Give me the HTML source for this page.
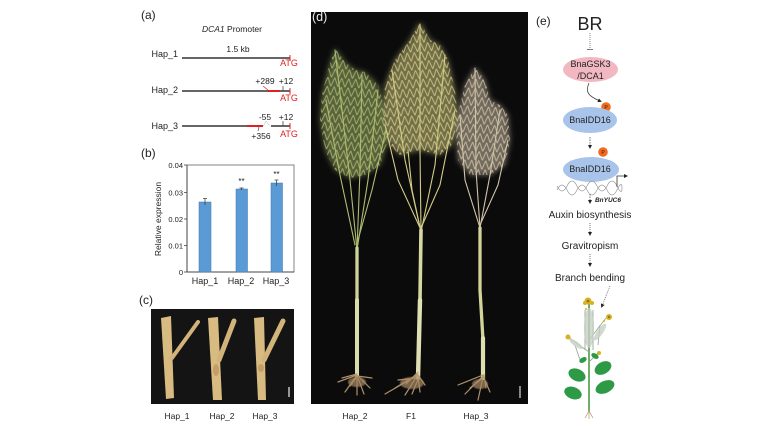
<!DOCTYPE html>
<html><head><meta charset="utf-8">
<style>
html,body{margin:0;padding:0;background:#fff;}
svg{display:block;font-family:"Liberation Sans",Arial,sans-serif;}
</style></head>
<body>
<svg width="762" height="429" viewBox="0 0 762 429" xmlns="http://www.w3.org/2000/svg">
<defs>
  <pattern id="pg" width="7" height="9" patternUnits="userSpaceOnUse" patternTransform="rotate(4)">
    <path d="M0,9 L3.5,0 L7,9" fill="none" stroke="#b0bf76" stroke-width="1"/>
  </pattern>
  <pattern id="pf" width="7" height="9" patternUnits="userSpaceOnUse" patternTransform="rotate(-4)">
    <path d="M0,9 L3.5,0 L7,9" fill="none" stroke="#d8d08a" stroke-width="1"/>
  </pattern>
  <pattern id="pp" width="7" height="9" patternUnits="userSpaceOnUse" patternTransform="rotate(3)">
    <path d="M0,9 L3.5,0 L7,9" fill="none" stroke="#d6c9b0" stroke-width="1"/>
  </pattern>
  <filter id="bl" x="-20%" y="-20%" width="140%" height="140%"><feGaussianBlur stdDeviation="3"/></filter>
  <filter id="bl1"><feGaussianBlur stdDeviation="0.6"/></filter>
  <filter id="bl2"><feGaussianBlur stdDeviation="0.35"/></filter>
  <marker id="ah" markerWidth="5" markerHeight="5" refX="2.5" refY="2.5" orient="auto">
    <path d="M0,0 L5,2.5 L0,5z" fill="#222"/>
  </marker>
</defs>

<!-- ===== Panel a ===== -->
<text x="141" y="19" font-size="12" fill="#222">(a)</text>
<text x="232" y="32" font-size="8.5" fill="#222" text-anchor="middle"><tspan font-style="italic">DCA1</tspan> Promoter</text>

<text x="178" y="57" font-size="9" fill="#222" text-anchor="end">Hap_1</text>
<line x1="182" y1="58" x2="290" y2="58" stroke="#333" stroke-width="1.4"/>
<line x1="290" y1="55" x2="290" y2="61" stroke="#e02020" stroke-width="1"/>
<text x="238" y="52" font-size="8.5" fill="#222" text-anchor="middle">1.5 kb</text>
<text x="289" y="66" font-size="9" fill="#e02020" text-anchor="middle">ATG</text>

<text x="178" y="93" font-size="9" fill="#222" text-anchor="end">Hap_2</text>
<line x1="182" y1="91" x2="290" y2="91" stroke="#333" stroke-width="1.4"/>
<line x1="268" y1="91" x2="280" y2="91" stroke="#e02020" stroke-width="2"/>
<line x1="290" y1="88" x2="290" y2="94" stroke="#e02020" stroke-width="1"/>
<line x1="263" y1="86" x2="268" y2="90" stroke="#e02020" stroke-width="0.7"/>
<line x1="283" y1="86" x2="283" y2="91" stroke="#333" stroke-width="0.7"/>
<text x="265" y="84" font-size="8.5" fill="#222" text-anchor="middle">+289</text>
<text x="286" y="84" font-size="8.5" fill="#222" text-anchor="middle">+12</text>
<text x="289" y="101" font-size="9" fill="#e02020" text-anchor="middle">ATG</text>

<text x="178" y="129" font-size="9" fill="#222" text-anchor="end">Hap_3</text>
<line x1="182" y1="126" x2="247" y2="126" stroke="#333" stroke-width="1.4"/>
<line x1="247" y1="126" x2="263" y2="126" stroke="#e02020" stroke-width="2"/>
<path d="M263,126 L266,121 L270,126" fill="none" stroke="#999" stroke-width="0.6" stroke-dasharray="1,1"/>
<line x1="271" y1="126" x2="290" y2="126" stroke="#333" stroke-width="1.4"/>
<line x1="290" y1="123" x2="290" y2="129" stroke="#e02020" stroke-width="1"/>
<line x1="283" y1="121" x2="283" y2="126" stroke="#333" stroke-width="0.7"/>
<line x1="259" y1="127" x2="258" y2="131" stroke="#333" stroke-width="0.6"/>
<text x="265" y="120" font-size="8.5" fill="#222" text-anchor="middle">-55</text>
<text x="286" y="120" font-size="8.5" fill="#222" text-anchor="middle">+12</text>
<text x="261" y="139" font-size="8.5" fill="#222" text-anchor="middle">+356</text>
<text x="289" y="137" font-size="9" fill="#e02020" text-anchor="middle">ATG</text>

<!-- ===== Panel b ===== -->
<text x="141" y="157" font-size="12" fill="#222">(b)</text>
<rect x="187" y="165" width="107" height="107" fill="none" stroke="#777" stroke-width="0.9"/>
<line x1="187" y1="165" x2="187" y2="272" stroke="#444" stroke-width="1"/>
<line x1="187" y1="272" x2="294" y2="272" stroke="#444" stroke-width="1"/>
<g stroke="#444" stroke-width="0.8">
  <line x1="184" y1="165" x2="187" y2="165"/>
  <line x1="184" y1="192.5" x2="187" y2="192.5"/>
  <line x1="184" y1="219" x2="187" y2="219"/>
  <line x1="184" y1="245.5" x2="187" y2="245.5"/>
  <line x1="184" y1="272" x2="187" y2="272"/>
</g>
<g font-size="7.5" fill="#222" text-anchor="end">
  <text x="183" y="168">0.04</text>
  <text x="183" y="195.5">0.03</text>
  <text x="183" y="222">0.02</text>
  <text x="183" y="248.5">0.01</text>
  <text x="183" y="275">0</text>
</g>
<text transform="translate(161,219) rotate(-90)" font-size="8.5" fill="#222" text-anchor="middle">Relative expression</text>
<rect x="199" y="202" width="12" height="70" fill="#5b9bd5" stroke="#3f74ad" stroke-width="0.5"/>
<rect x="236" y="189" width="11.5" height="83" fill="#5b9bd5" stroke="#3f74ad" stroke-width="0.5"/>
<rect x="271" y="183" width="11.5" height="89" fill="#5b9bd5" stroke="#3f74ad" stroke-width="0.5"/>
<g stroke="#333" stroke-width="0.7">
  <line x1="205" y1="198.5" x2="205" y2="205"/><line x1="203" y1="198.5" x2="207" y2="198.5"/>
  <line x1="241.5" y1="188" x2="241.5" y2="190"/><line x1="239.5" y1="188" x2="243.5" y2="188"/>
  <line x1="276.5" y1="180" x2="276.5" y2="186"/><line x1="274.5" y1="180" x2="278.5" y2="180"/>
</g>
<text x="241.5" y="184" font-size="8" fill="#222" text-anchor="middle">**</text>
<text x="276.5" y="177" font-size="8" fill="#222" text-anchor="middle">**</text>
<g font-size="9" fill="#222" text-anchor="middle">
  <text x="205" y="284">Hap_1</text>
  <text x="241" y="284">Hap_2</text>
  <text x="276" y="284">Hap_3</text>
</g>

<!-- ===== Panel c ===== -->
<text x="139" y="304" font-size="12" fill="#222">(c)</text>
<rect x="151" y="309" width="143" height="95" fill="#141414"/>
<g fill="#d8bb80">
  <polygon points="161,318 171,316 174,398 166,399"/>
  <polygon points="208,318 218,317 222,400 213,400"/>
  <polygon points="254,318 264,317 266,400 258,400"/>
</g>
<g stroke="#d2b47a" stroke-linecap="round">
  <line x1="172" y1="358" x2="198" y2="322" stroke-width="4"/>
  <line x1="219" y1="360" x2="234" y2="321" stroke-width="5"/>
  <line x1="264" y1="360" x2="283" y2="321" stroke-width="5"/>
</g>
<g fill="#b58a55" opacity="0.6">
  <ellipse cx="216" cy="370" rx="3" ry="6"/>
  <ellipse cx="261" cy="368" rx="3" ry="4"/>
</g>
<line x1="289" y1="387" x2="289" y2="397" stroke="#eee" stroke-width="1.2"/>
<g font-size="8.5" fill="#222" text-anchor="middle">
  <text x="177" y="419">Hap_1</text>
  <text x="222" y="419">Hap_2</text>
  <text x="265" y="419">Hap_3</text>
</g>

<!-- ===== Panel d ===== -->
<rect x="311" y="12" width="217" height="392" fill="#0b0b0c"/>
<text x="312" y="21" font-size="12.5" fill="#eee">(d)</text>

<!-- canopy bases -->
<g filter="url(#bl)" opacity="0.55">
  <polygon fill="#9aac62" points="335,48 345,62 355,70 365,72 378,85 385,110 388,140 380,165 365,175 350,178 335,170 325,150 320,120 322,95 328,70"/>
  <polygon fill="#c8c27a" points="420,22 430,40 440,45 448,60 455,90 458,120 452,145 440,155 420,150 400,155 390,145 383,120 385,85 395,60 410,40"/>
  <polygon fill="#c9bba0" points="475,67 485,80 490,100 500,105 508,115 510,140 505,165 490,175 470,175 458,160 456,130 460,105 465,85"/>
</g>
<g opacity="0.8" filter="url(#bl2)">
  <polygon fill="url(#pg)" points="335,48 345,62 355,70 365,72 378,85 385,110 388,140 380,165 365,175 350,178 335,170 325,150 320,120 322,95 328,70"/>
  <polygon fill="url(#pf)" points="420,22 430,40 440,45 448,60 455,90 458,120 452,145 440,155 420,150 400,155 390,145 383,120 385,85 395,60 410,40"/>
  <polygon fill="url(#pp)" points="475,67 485,80 490,100 500,105 508,115 510,140 505,165 490,175 470,175 458,160 456,130 460,105 465,85"/>
</g>
<!-- branch lines -->
<g fill="none" stroke-width="1.1" stroke-linecap="round">
  <g stroke="#aebd70">
    <path d="M357,250 L350,180 L335,50"/>
    <path d="M357,250 L360,170 L362,75"/>
    <path d="M357,250 L368,180 L378,90"/>
    <path d="M355,245 L340,175 L326,100"/>
    <path d="M358,240 L372,190 L386,130"/>
  </g>
  <g stroke="#d4cc86">
    <path d="M421,232 L420,150 L420,24"/>
    <path d="M421,232 L405,160 L392,70"/>
    <path d="M421,232 L435,165 L445,55"/>
    <path d="M421,230 L398,180 L385,125"/>
    <path d="M421,228 L440,185 L455,110"/>
    <path d="M421,232 L412,190 L408,150"/>
  </g>
  <g stroke="#d2c4a8">
    <path d="M480,228 L476,170 L475,68"/>
    <path d="M480,228 L490,175 L500,110"/>
    <path d="M480,228 L465,180 L460,115"/>
    <path d="M480,225 L498,185 L508,140"/>
  </g>
</g>
<!-- main stems -->
<g fill="none" stroke-linecap="round">
  <path d="M357,248 L357,300" stroke="#cfd49a" stroke-width="3.3"/>
  <path d="M357,300 L357,375" stroke="#dadcae" stroke-width="4"/>
  <path d="M421,230 L420,300" stroke="#d6d8a0" stroke-width="3.6"/>
  <path d="M420,300 L418,378" stroke="#e0e0b4" stroke-width="4.4"/>
  <path d="M480,228 L480,290 L483,340" stroke="#d3d49a" stroke-width="3.3"/>
  <path d="M483,338 L483,378" stroke="#dedeae" stroke-width="4.2"/>
</g>
<!-- roots -->
<g fill="none" stroke="#b89870" stroke-width="1.2" stroke-linecap="round" opacity="0.95">
  <path d="M357,375 L338,382 M357,375 L345,392 M357,376 L357,395 M357,375 L370,388 M357,376 L372,378 M356,378 L350,386 M358,378 L364,394 M357,374 L342,378"/>
  <path d="M418,374 L395,388 M418,375 L385,394 M417,376 L405,395 M418,376 L420,392 M418,375 L425,385 M416,378 L398,380 M418,372 L406,384 M419,377 L412,394"/>
  <path d="M483,375 L458,385 M483,376 L465,394 M483,377 L478,400 M483,376 L490,392 M484,375 L486,388 M483,378 L470,388"/>
</g>
<g fill="#a88a64" opacity="0.7" filter="url(#bl1)">
  <ellipse cx="357" cy="382" rx="9" ry="5"/>
  <ellipse cx="412" cy="383" rx="12" ry="6"/>
  <ellipse cx="480" cy="384" rx="8" ry="5"/>
</g>
<line x1="520" y1="386" x2="520" y2="398" stroke="#ddd" stroke-width="1.2"/>
<g font-size="8.5" fill="#222" text-anchor="middle">
  <text x="355" y="419">Hap_2</text>
  <text x="411" y="419">F1</text>
  <text x="476" y="419">Hap_3</text>
</g>

<!-- ===== Panel e ===== -->
<text x="536" y="25" font-size="12" fill="#222">(e)</text>
<text x="590" y="30" font-size="18" fill="#222" text-anchor="middle">BR</text>
<line x1="590" y1="33" x2="590" y2="49" stroke="#666" stroke-width="0.8" stroke-dasharray="1,1"/>
<line x1="587" y1="49.5" x2="593" y2="49.5" stroke="#555" stroke-width="0.8"/>
<ellipse cx="590.5" cy="69.5" rx="27.5" ry="12.5" fill="#f2b8c2"/>
<text x="590.5" y="67" font-size="9" fill="#222" text-anchor="middle">BnaGSK3</text>
<text x="590.5" y="79" font-size="9" fill="#222" text-anchor="middle">/DCA1</text>
<path d="M589,83 C585,92 588,96 600,101" fill="none" stroke="#444" stroke-width="0.8" marker-end="url(#ah)"/>
<circle cx="606" cy="107" r="4.8" fill="#f26a1c"/>
<text x="606" y="109" font-size="5" fill="#222" text-anchor="middle">P</text>
<ellipse cx="590" cy="120" rx="27" ry="13" fill="#a9c4ea"/>
<text x="590" y="123" font-size="9" fill="#222" text-anchor="middle">BnaIDD16</text>
<line x1="590" y1="137" x2="590" y2="147" stroke="#555" stroke-width="0.8" stroke-dasharray="1.5,1" marker-end="url(#ah)"/>
<circle cx="603" cy="152" r="4.8" fill="#f26a1c"/>
<text x="603" y="154" font-size="5" fill="#222" text-anchor="middle">P</text>
<ellipse cx="591" cy="169.5" rx="28" ry="12.5" fill="#a9c4ea"/>
<text x="590" y="172" font-size="9" fill="#222" text-anchor="middle">BnaIDD16</text>
<path d="M557,190 Q562,180 567,190 T577,190 T587,190 T597,190 T607,190 T617,190 T622,188" fill="none" stroke="#999" stroke-width="0.7"/>
<path d="M557,186 Q562,196 567,186 T577,186 T587,186 T597,186 T607,186 T617,186 T622,188" fill="none" stroke="#999" stroke-width="0.7"/>
<path d="M617,187 L617,176 L626,176" fill="none" stroke="#333" stroke-width="0.8" marker-end="url(#ah)"/>
<line x1="590" y1="194" x2="590" y2="202" stroke="#555" stroke-width="0.8" stroke-dasharray="1.5,1" marker-end="url(#ah)"/>
<text x="608" y="202" font-size="6.5" font-style="italic" font-weight="bold" fill="#222" text-anchor="middle">BnYUC6</text>
<text x="590" y="218" font-size="10" fill="#222" text-anchor="middle">Auxin biosynthesis</text>
<line x1="590" y1="223" x2="590" y2="234" stroke="#555" stroke-width="0.8" stroke-dasharray="1,1" marker-end="url(#ah)"/>
<text x="590" y="249" font-size="10" fill="#222" text-anchor="middle">Gravitropism</text>
<line x1="590" y1="254" x2="590" y2="265" stroke="#555" stroke-width="0.8" stroke-dasharray="1,1" marker-end="url(#ah)"/>
<text x="590" y="281" font-size="10" fill="#222" text-anchor="middle">Branch bending</text>
<line x1="610" y1="286" x2="602" y2="306" stroke="#666" stroke-width="0.8" stroke-dasharray="1,1" marker-end="url(#ah)"/>

<!-- plant illustration -->
<g>
  <path d="M589,303 L589,413" stroke="#4a9a46" stroke-width="1.6" fill="none"/>
  <g stroke="#9aa89a" stroke-width="0.9" fill="none">
    <path d="M589,340 L606,318"/>
    <path d="M589,352 L568,337"/>
    <path d="M589,362 L598,353"/>
    <path d="M585,310 L585,350 M593,310 L593,350"/>
    <path d="M575,345 L580,360 M600,325 L598,345"/>
  </g>
  <g fill="#c8d0c4" opacity="0.8">
    <ellipse cx="589" cy="328" rx="5" ry="20"/>
    <ellipse cx="600" cy="332" rx="3" ry="10" transform="rotate(35 600 332)"/>
    <ellipse cx="576" cy="344" rx="2.5" ry="8" transform="rotate(-55 576 344)"/>
  </g>
  <g fill="#2e9a46">
    <ellipse cx="577" cy="375" rx="9" ry="6" transform="rotate(25 577 375)"/>
    <ellipse cx="603" cy="368" rx="9" ry="6" transform="rotate(-30 603 368)"/>
    <ellipse cx="573" cy="393" rx="9" ry="6" transform="rotate(20 573 393)"/>
    <ellipse cx="605" cy="387" rx="10" ry="6" transform="rotate(-25 605 387)"/>
    <ellipse cx="583" cy="360" rx="4" ry="2.5" transform="rotate(-30 583 360)"/>
    <ellipse cx="595" cy="356" rx="4" ry="2.5" transform="rotate(30 595 356)"/>
  </g>
  <g fill="#d6b21e">
    <circle cx="588" cy="301" r="3.5"/>
    <circle cx="585" cy="303" r="2"/>
    <circle cx="592" cy="303" r="2"/>
    <circle cx="609" cy="317" r="3"/>
    <circle cx="568" cy="337" r="2.5"/>
    <circle cx="599" cy="353" r="2"/>
    <circle cx="586" cy="309" r="1"/>
    <circle cx="604" cy="321" r="1"/>
  </g>
  <g fill="#5a4a20" opacity="0.6">
    <circle cx="588" cy="301" r="1.3"/>
    <circle cx="609" cy="317" r="1.1"/>
  </g>
  <path d="M589,411 L585,418 M589,411 L593,418 M589,411 L589,419" stroke="#c8a680" stroke-width="0.8" fill="none"/>
</g>
</svg>
</body></html>
